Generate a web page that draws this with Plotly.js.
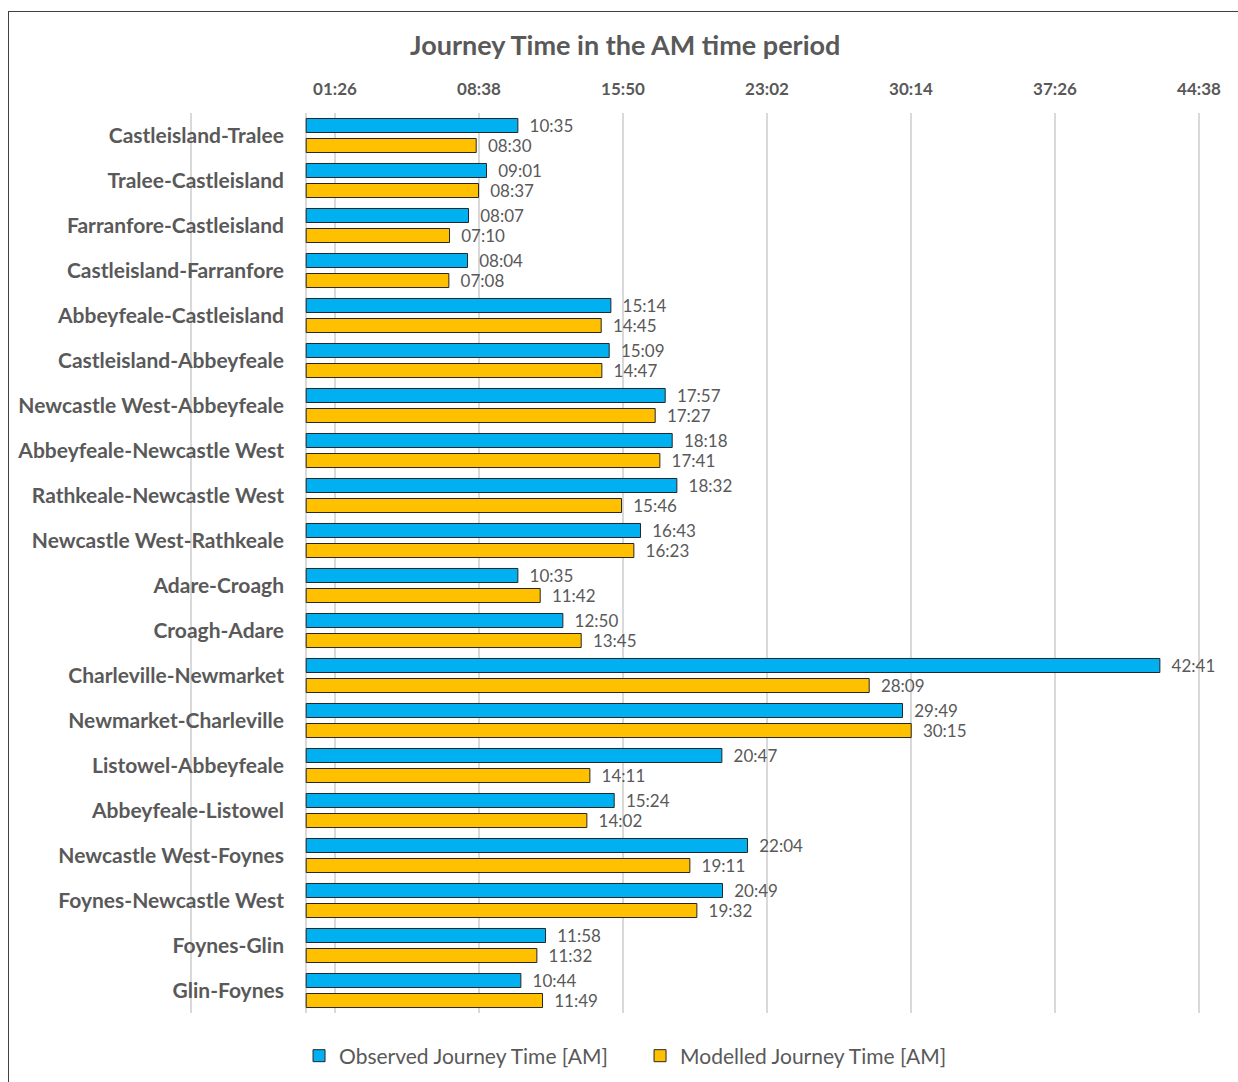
<!DOCTYPE html>
<html>
<head>
<meta charset="utf-8">
<script src="https://cdn.plot.ly/plotly-3.0.1.min.js"></script>
<style>
  html, body { margin: 0; padding: 0; background: #fff; }
  #wrap { position: relative; width: 1238px; height: 1082px; }
  #chart { position: absolute; left: 0; top: 0; width: 1238px; height: 1082px; }
  #frame { position: absolute; left: 8px; top: 11px; width: 1240px; height: 1090px;
           border-left: 1px solid #404040; border-top: 1px solid #404040; pointer-events: none; }
</style>
</head>
<body>
<div id="wrap">
  <div id="chart"></div>
  <div id="frame"></div>
</div>
<script>
const routes = [
  "Castleisland-Tralee", "Tralee-Castleisland", "Farranfore-Castleisland",
  "Castleisland-Farranfore", "Abbeyfeale-Castleisland", "Castleisland-Abbeyfeale",
  "Newcastle West-Abbeyfeale", "Abbeyfeale-Newcastle West", "Rathkeale-Newcastle West",
  "Newcastle West-Rathkeale", "Adare-Croagh", "Croagh-Adare",
  "Charleville-Newmarket", "Newmarket-Charleville", "Listowel-Abbeyfeale",
  "Abbeyfeale-Listowel", "Newcastle West-Foynes", "Foynes-Newcastle West",
  "Foynes-Glin", "Glin-Foynes"
];
const observedAM = [
  "10:35", "09:01", "08:07", "08:04", "15:14", "15:09", "17:57", "18:18", "18:32", "16:43",
  "10:35", "12:50", "42:41", "29:49", "20:47", "15:24", "22:04", "20:49", "11:58", "10:44"
];
const modelledAM = [
  "08:30", "08:37", "07:10", "07:08", "14:45", "14:47", "17:27", "17:41", "15:46", "16:23",
  "11:42", "13:45", "28:09", "30:15", "14:11", "14:02", "19:11", "19:32", "11:32", "11:49"
];
// Axis ticks (seconds) and their labels; first gridline has a blank label
const tickSeconds = [-345.6, 86.4, 518.4, 950.4, 1382.4, 1814.4, 2246.4, 2678.4];
const tickLabels = ["", "01:26", "08:38", "15:50", "23:02", "30:14", "37:26", "44:38"];
const seriesNames = ["Observed Journey Time [AM]", "Modelled Journey Time [AM]"];
const seriesColors = ["#00B0F0", "#FFC000"];

function toSec(s) { const p = s.split(":"); return (+p[0]) * 60 + (+p[1]); }

const font = "Lato, 'Open Sans', sans-serif";
const gray = "#595959";

function mk(i, vals) {
  return {
    type: "bar", orientation: "h", name: seriesNames[i],
    y: routes, x: vals.map(toSec),
    text: vals.map(v => "  " + v), textposition: "outside", cliponaxis: false, constraintext: "none",
    textfont: { family: font, size: 17, color: gray },
    marker: { color: seriesColors[i], line: { color: "#262626", width: 1 } },
    hoverinfo: "none"
  };
}

const data = [mk(0, observedAM), mk(1, modelledAM)];

const layout = {
  width: 1238, height: 1082,
  margin: { l: 188, r: 37, t: 113, b: 69, autoexpand: false },
  paper_bgcolor: "#fff", plot_bgcolor: "#fff",
  barmode: "group", bargap: 0.11, bargroupgap: 0.3,
  title: { text: "<b>Journey Time in the AM time period</b>", font: { family: font, size: 27, color: gray },
           xref: "container", yref: "container", x: 0.505, y: 0.958, xanchor: "center", yanchor: "middle" },
  xaxis: {
    side: "top", range: [-354.6, 2684.4], tickmode: "array", tickvals: tickSeconds, ticktext: tickLabels,
    showgrid: true, gridcolor: "#d9d9d9", gridwidth: 1.5,
    zeroline: true, zerolinecolor: "#d9d9d9", zerolinewidth: 1.5,
    showline: false, ticks: "outside", ticklen: 10, tickcolor: "rgba(0,0,0,0)",
    tickfont: { family: font, size: 17, color: gray, weight: "bold" }, fixedrange: true
  },
  yaxis: {
    type: "category", autorange: "reversed", showgrid: false, zeroline: false, showline: false,
    ticks: "", ticklabelstandoff: -97,
    tickfont: { family: font, size: 21, color: gray, weight: "bold" }, fixedrange: true
  },
  legend: { orientation: "h", xref: "container", yref: "container", x: 0.517, xanchor: "center",
            y: 0.024, yanchor: "middle", entrywidth: 296, entrywidthmode: "pixels",
            font: { family: font, size: 21, color: gray }, itemwidth: 30, traceorder: "normal" },
  showlegend: true
};

Plotly.newPlot("chart", data, layout, { staticPlot: true, displayModeBar: false });
</script>
</body>
</html>
